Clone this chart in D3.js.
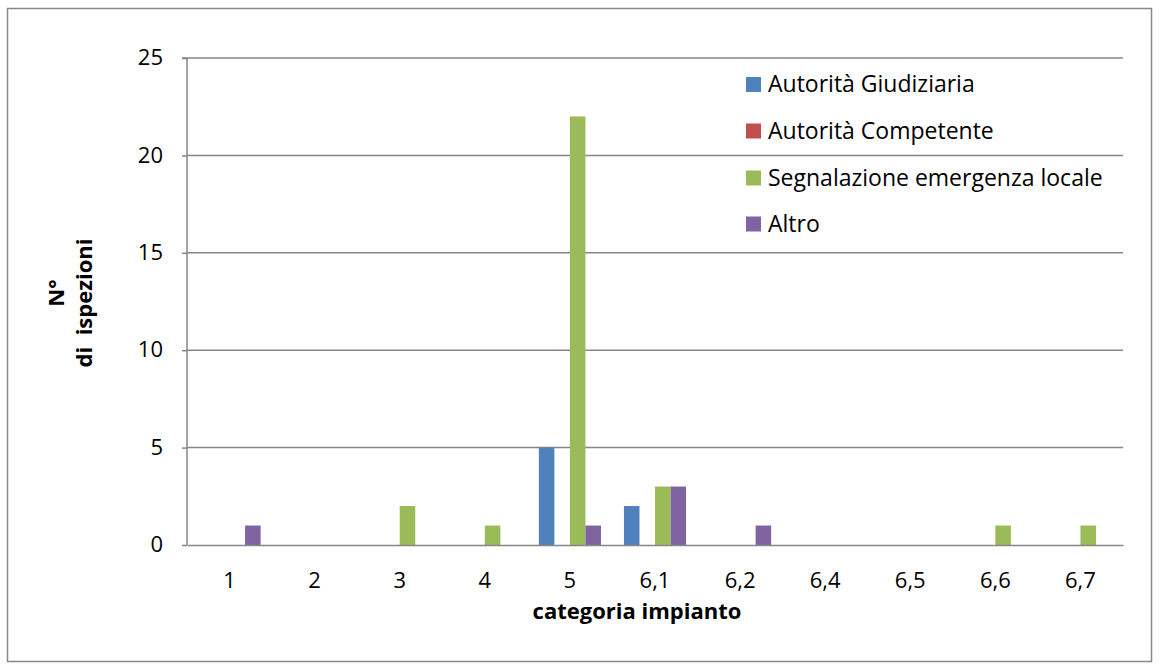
<!DOCTYPE html>
<html><head><meta charset="utf-8">
<script src="https://cdn.jsdelivr.net/npm/d3@7"></script>
<style>body{margin:0;background:#fff}svg{display:block}text{font-family:"Open Sans",sans-serif;fill:#000}</style>
</head><body><svg id="c" width="1160" height="670"></svg>
<script>
const categories = ["1","2","3","4","5","6,1","6,2","6,4","6,5","6,6","6,7"];
const seriesNames = ["Autorità Giudiziaria","Autorità Competente","Segnalazione emergenza locale","Altro"];
const seriesColors = ["#4f81bd","#c0504d","#9bbb59","#8064a2"];
const giudiziaria = [0,0,0,0,5,2,0,0,0,0,0];
const competente  = [0,0,0,0,0,0,0,0,0,0,0];
const segnalazione= [0,0,2,1,22,3,0,0,0,1,1];
const altro       = [1,0,0,0,1,3,1,0,0,0,0];
const yTicks = [0,5,10,15,20,25];
const seriesValues = [giudiziaria, competente, segnalazione, altro];

const FONT = '"Open Sans", sans-serif';
const FS = 22;
const svg = d3.select("#c");
const L=187, R=1123, T=58, B=545;
svg.append("rect").attr("x",7.5).attr("y",8.5).attr("width",1144).attr("height",653)
  .attr("fill","none").attr("stroke","#898989").attr("stroke-width",1.5);

const x = d3.scaleBand().domain(categories).range([L,R]).paddingInner(0).paddingOuter(0);
const gap = x.bandwidth()*0.27;
const xs = d3.scaleBand().domain(d3.range(4)).range([gap/2, x.bandwidth()-gap/2]);
const y = d3.scaleLinear().domain([0,25]).range([B,T]);

svg.append("g").selectAll("line").data(yTicks.filter(d=>d>0)).join("line")
  .attr("x1",L).attr("x2",R).attr("y1",d=>y(d)).attr("y2",d=>y(d))
  .attr("stroke","#868686").attr("stroke-width",1.5);

seriesValues.forEach((vals,si)=>{
  svg.append("g").selectAll("rect").data(vals.map((v,i)=>({c:categories[i],v}))).join("rect")
    .attr("x",d=>x(d.c)+xs(si)).attr("width",xs.bandwidth())
    .attr("y",d=>y(d.v)).attr("height",d=>B-y(d.v)).attr("fill",seriesColors[si]);
});

const ya = svg.append("g").attr("transform",`translate(${L},0)`)
  .call(d3.axisLeft(y).tickValues(yTicks).tickSize(5).tickPadding(19).tickFormat(d3.format("d")));
ya.select(".domain").attr("stroke","#868686").attr("stroke-width",1.5).attr("d",`M-5,${T}H0V${B}`);
ya.selectAll(".tick line").attr("stroke","#868686").attr("stroke-width",1.5);
ya.selectAll(".tick text").attr("font-size",FS).attr("font-family",FONT).attr("fill","#000").attr("dy","0.3em");

const xa = svg.append("g").attr("transform",`translate(0,${B})`)
  .call(d3.axisBottom(x).tickSize(0).tickPadding(27));
xa.select(".domain").attr("stroke","#868686").attr("stroke-width",1.5);
xa.selectAll(".tick text").attr("font-size",FS).attr("font-family",FONT).attr("fill","#000");

svg.append("text").attr("x",637).attr("y",619).attr("text-anchor","middle")
  .attr("font-size",FS).attr("font-weight","bold").text("categoria impianto");
svg.append("text").attr("transform","translate(64,293) rotate(-90)").attr("text-anchor","middle")
  .attr("font-size",FS).attr("font-weight","bold").text("N°");
svg.append("text").attr("transform","translate(92,303) rotate(-90)").attr("text-anchor","middle")
  .attr("font-size",FS).attr("font-weight","bold").style("white-space","pre").text("di  ispezioni");

const lg = svg.append("g");
const ly = [84.5,131,178,224];
seriesNames.forEach((n,i)=>{
  lg.append("rect").attr("x",746).attr("y",ly[i]-7.5).attr("width",15).attr("height",15).attr("fill",seriesColors[i]);
  lg.append("text").attr("x",768).attr("y",ly[i]+7.5).attr("font-size",23).text(n);
});
</script></body></html>
